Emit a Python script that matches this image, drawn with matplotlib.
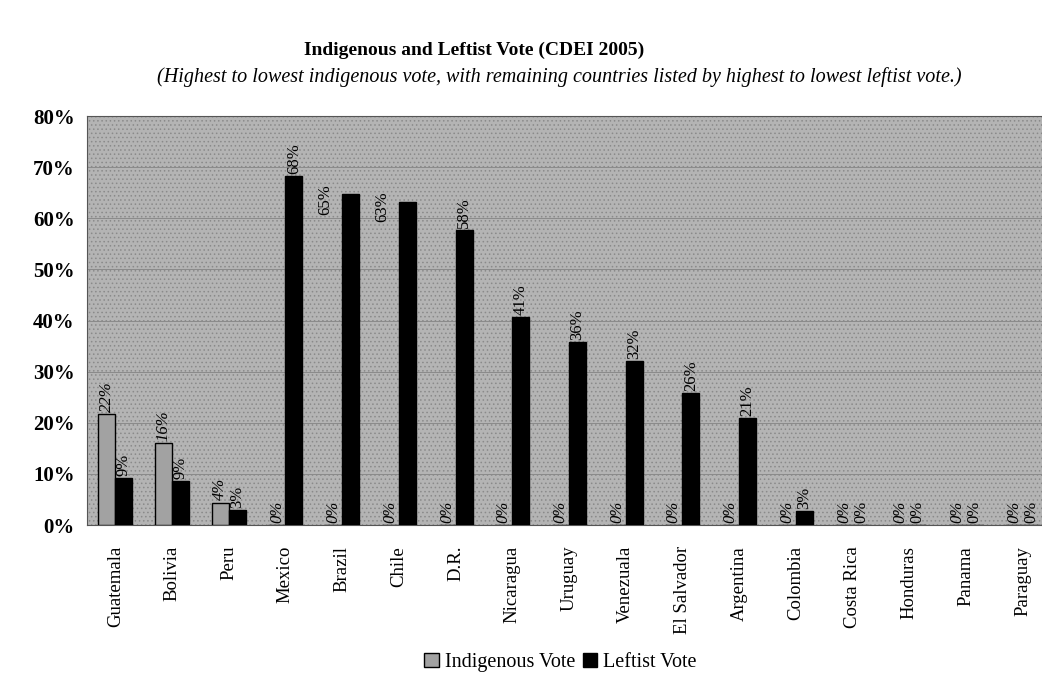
import numpy as np
import matplotlib
matplotlib.use('Agg')
import matplotlib.pyplot as plt
from matplotlib.ticker import PercentFormatter

# Data (share of vote)
countries = ['Guatemala', 'Bolivia', 'Peru', 'Mexico', 'Brazil', 'Chile', 'D.R.',
             'Nicaragua', 'Uruguay', 'Venezuala', 'El Salvador', 'Argentina',
             'Colombia', 'Costa Rica', 'Honduras', 'Panama', 'Paraguay']
indigenous_vote = [0.217, 0.160, 0.044, 0, 0, 0, 0, 0, 0, 0, 0, 0, 0, 0, 0, 0, 0]
leftist_vote = [0.092, 0.087, 0.030, 0.683, 0.647, 0.632, 0.577, 0.407, 0.358,
                0.320, 0.258, 0.210, 0.027, 0, 0, 0, 0]

plt.rcParams['font.family'] = 'Liberation Serif'
plt.rcParams['hatch.linewidth'] = 0.6

fig = plt.figure(figsize=(10.42, 6.77), dpi=100)
# plot area runs past the right edge, as in the cropped original
ax = fig.add_axes([0.0835, 0.2245, 0.925, 0.604])
ax.patch.set_facecolor('#b4b4b4')
ax.patch.set_edgecolor('#8a8a8a')
ax.patch.set_hatch('....')

x = np.arange(len(countries))
w = 0.3
b1 = ax.bar(x - w / 2, indigenous_vote, w, color='#a2a2a2', edgecolor='black',
            linewidth=1, label='Indigenous Vote', zorder=3)
b2 = ax.bar(x + w / 2, leftist_vote, w, color='black', edgecolor='black',
            linewidth=1, label='Leftist Vote', zorder=3)

# value labels
for xi, v in zip(x - w / 2, indigenous_vote):
    ax.text(xi, v + 0.004, f'{v:.0%}', rotation=90, ha='center', va='bottom',
            fontsize=12, style='italic', zorder=4)
shifted = ['Brazil', 'Chile']
for name, xi, v in zip(countries, x + w / 2, leftist_vote):
    if name in shifted:
        ax.text(xi - 0.45, v - 0.01, f'{v:.0%}', rotation=90, ha='center',
                va='center', fontsize=12, zorder=4)
    else:
        ax.text(xi, v + 0.004, f'{v:.0%}', rotation=90, ha='center', va='bottom',
                fontsize=12, zorder=4)

ax.set_xlim(-0.5, len(countries) - 0.5)
ax.set_ylim(0, 0.8)
ax.set_yticks(np.arange(0, 0.81, 0.1))
ax.yaxis.set_major_formatter(PercentFormatter(1.0, decimals=0))
ax.grid(axis='y', color='#8a8a8a', linewidth=0.7, zorder=1)
ax.set_xticks(x)
ax.set_xticklabels(countries, rotation=90, fontsize=13.5)
ax.tick_params(axis='x', length=0, pad=15)
ax.tick_params(axis='y', length=0, pad=9, labelsize=15)
for lab in ax.get_yticklabels():
    lab.set_fontweight('bold')
for s in ax.spines.values():
    s.set_color('#555555')
    s.set_linewidth(0.8)

fig.text(0.455, 0.925, 'Indigenous and Leftist Vote (CDEI 2005)', ha='center',
         va='center', fontsize=14, fontweight='bold')
fig.text(0.537, 0.886, '(Highest to lowest indigenous vote, with remaining countries '
         'listed by highest to lowest leftist vote.)', ha='center', va='center',
         fontsize=14.5, style='italic')

fig.legend(handles=[b1, b2], loc='center', bbox_to_anchor=(0.538, 0.022), ncol=2,
           frameon=False, fontsize=14.5, handlelength=0.7, handleheight=0.7,
           handletextpad=0.3, columnspacing=0.4)

fig.savefig('out.png', dpi=100)
